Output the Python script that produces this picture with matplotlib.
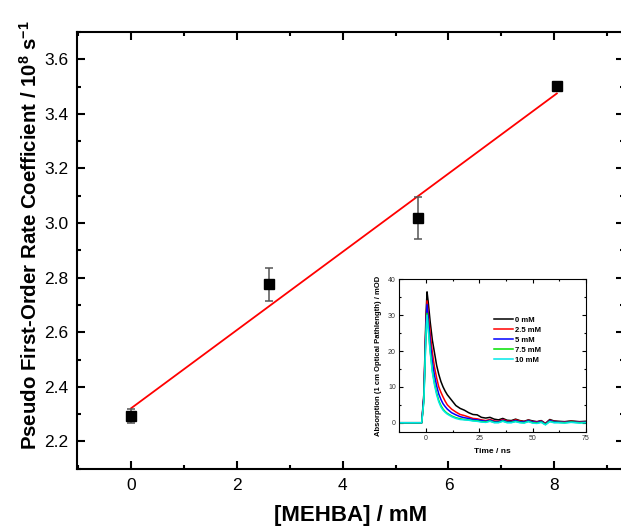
import numpy as np
import matplotlib
matplotlib.use("Agg")
import matplotlib.pyplot as plt
from matplotlib.ticker import MultipleLocator

plt.rcParams['font.family'] = ['Liberation Sans', 'DejaVu Sans']
plt.rcParams['mathtext.default'] = 'regular'

# main plot: rate coefficient vs [MEHBA]
conc = [0.0, 2.6, 5.43, 8.05]
rate = [2.293, 2.775, 3.019, 3.503]
rate_err = [0.024, 0.06, 0.076, 0.0]

# inset: transient absorption traces
time_ns = [-12.5, -2, -1, 0, 0.5, 1, 2, 3, 4, 5, 6, 7, 8, 9, 10, 12, 14, 16, 18, 20,
           22, 24, 26, 28, 30, 32, 34, 36, 38, 40, 42, 44, 46, 48, 50, 52, 54, 56,
           58, 60, 62, 65, 68, 70, 72, 75]
trace_0 = [0, 0, 8, 30, 36.5, 34, 28, 23, 19.5, 16, 13.5, 11.5, 10, 8.8, 7.8, 6.3, 4.8,
           4, 3.5, 2.8, 2.3, 2.2, 1.5, 1.3, 1.5, 1.0, 0.8, 1.2, 0.7, 0.6, 1.0, 0.6, 0.4,
           0.8, 0.5, 0.3, 0.6, -0.2, 0.9, 0.5, 0.4, 0.3, 0.5, 0.4, 0.3, 0.4]
trace_25 = [0, 0, 7, 28, 34, 31, 25, 19.5, 15.5, 12.5, 10, 8.5, 7.2, 6, 5, 3.8, 3, 2.3,
            2, 1.6, 1.2, 1.1, 0.8, 0.6, 0.9, 0.5, 0.4, 0.9, 0.5, 0.4, 0.8, 0.5, 0.3,
            0.7, 0.3, 0.2, 0.5, -0.3, 0.7, 0.4, 0.3, 0.2, 0.4, 0.3, 0.2, 0.3]
trace_5 = [0, 0, 7, 27, 33, 29.5, 22.5, 17, 13.2, 10.3, 8, 6.5, 5.3, 4.5, 3.8, 2.8, 2.2,
           1.7, 1.4, 1.2, 0.9, 0.8, 0.6, 0.4, 0.7, 0.3, 0.3, 0.7, 0.3, 0.3, 0.6, 0.3,
           0.2, 0.6, 0.2, 0.1, 0.4, -0.4, 0.6, 0.3, 0.2, 0.1, 0.3, 0.2, 0.1, 0.2]
trace_75 = [0, 0, 6, 25, 30.5, 27, 20, 14.5, 11, 8.3, 6.2, 4.8, 3.8, 3.1, 2.6, 1.9, 1.4,
            1.1, 0.9, 0.8, 0.6, 0.5, 0.3, 0.2, 0.5, 0.1, 0.1, 0.5, 0.1, 0.1, 0.4, 0.1,
            0.0, 0.4, 0.0, -0.1, 0.2, -0.5, 0.4, 0.1, 0.1, 0.0, 0.2, 0.1, 0.0, 0.1]
trace_10 = [0, 0, 6, 24.5, 30, 26.5, 19.5, 14, 10.5, 7.8, 5.8, 4.4, 3.5, 2.9, 2.4, 1.7,
            1.2, 0.9, 0.8, 0.7, 0.5, 0.4, 0.2, 0.1, 0.4, 0.0, 0.0, 0.4, 0.0, 0.0, 0.3,
            0.0, -0.1, 0.3, -0.1, -0.2, 0.1, -0.6, 0.3, 0.0, 0.0, -0.1, 0.1, 0.0, -0.1, 0.0]
trace_labels = ['0 mM', '2.5 mM', '5 mM', '7.5 mM', '10 mM']
trace_colors = ['black', 'red', 'blue', '#00e000', '#00e8e8']

fig = plt.figure(figsize=(6.21, 5.31), dpi=100)
ax = fig.add_axes([76.7 / 621, 1 - 468.7 / 531, (624 - 76.7) / 621, (468.7 - 32) / 531])

# linear fit through the points
slope, intercept = np.polyfit(conc, rate, 1)
xfit = np.array([conc[0], conc[-1]])
ax.plot(xfit, intercept + slope * xfit, color='red', lw=1.3, zorder=2)
ax.errorbar(conc, rate, yerr=rate_err, fmt='s', color='black', ms=7,
            ecolor='#555555', elinewidth=1.1, capsize=3, capthick=1.1, zorder=3)

ax.set_xlim(-1.03, 9.32)
ax.set_ylim(2.1, 3.7)
ax.xaxis.set_major_locator(MultipleLocator(2))
ax.xaxis.set_minor_locator(MultipleLocator(1))
ax.yaxis.set_major_locator(MultipleLocator(0.2))
ax.yaxis.set_minor_locator(MultipleLocator(0.1))
ax.yaxis.set_major_formatter(plt.FormatStrFormatter('%.1f'))
ax.tick_params(which='both', direction='in', top=True, right=True, width=1.5)
ax.tick_params(which='major', length=6, labelsize=12.5)
ax.tick_params(axis='x', which='major', pad=7)
ax.tick_params(axis='y', which='major', pad=6)
ax.tick_params(which='minor', length=3)
for s in ax.spines.values():
    s.set_linewidth(1.5)
ax.set_xlabel('[MEHBA] / mM', fontsize=16, fontweight='bold', labelpad=8)
ax.set_ylabel(r'Pseudo First-Order Rate Coefficient / 10$^{8}$ s$^{-1}$',
              fontsize=14.7, fontweight='bold')
ax.yaxis.set_label_coords(-0.066, 0.535)

# inset
ins = fig.add_axes([399.3 / 621, 1 - 431.7 / 531, (586 - 399.3) / 621, (431.7 - 279.3) / 531])
traces = [trace_0, trace_25, trace_5, trace_75, trace_10]
for y, lab, c in zip(traces, trace_labels, trace_colors):
    ins.plot(time_ns, y, color=c, lw=1.1, label=lab)
ins.set_xlim(-12.5, 75)
ins.set_ylim(-2.5, 40)
ins.xaxis.set_major_locator(MultipleLocator(25))
ins.xaxis.set_minor_locator(MultipleLocator(12.5))
ins.yaxis.set_major_locator(MultipleLocator(10))
ins.yaxis.set_minor_locator(MultipleLocator(5))
ins.tick_params(which='both', direction='in', top=True, right=True, width=0.8,
                labelsize=5, labelcolor='#333333', pad=2.5)
ins.tick_params(which='major', length=3)
ins.tick_params(which='minor', length=1.5)
for s in ins.spines.values():
    s.set_linewidth(0.8)
ins.set_xlabel('Time / ns', fontsize=6, fontweight='bold', labelpad=4)
ins.set_ylabel('Absorption (1 cm Optical Pathlength) / mOD', fontsize=5.5,
               fontweight='bold', labelpad=4)
ins.legend(loc='upper left', bbox_to_anchor=(0.507, 0.755), frameon=False,
           borderpad=0, borderaxespad=0,
           prop={'size': 5.5, 'weight': 'bold'}, handlelength=2.5,
           handletextpad=0.3, labelspacing=0.35)

fig.savefig('out.png', dpi=100)
